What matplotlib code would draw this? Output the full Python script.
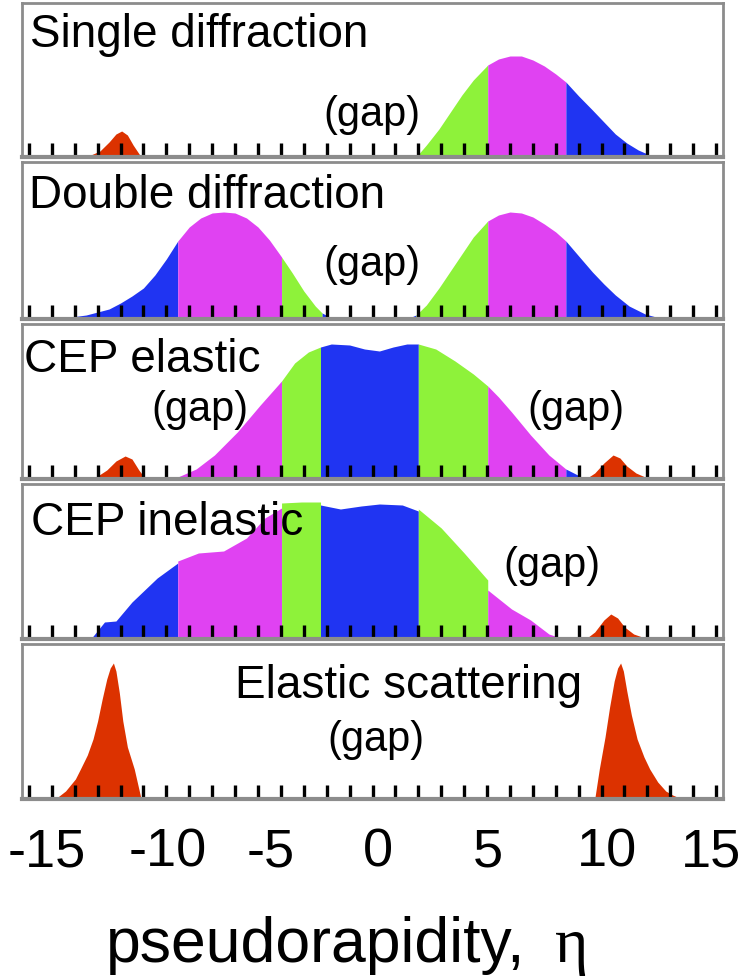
import matplotlib
matplotlib.use("Agg")
import matplotlib.pyplot as plt
from matplotlib.ticker import MultipleLocator

plt.rcParams['font.family'] = ['Liberation Sans', 'DejaVu Sans']

GREEN = '#8ef23a'
MAGENTA = '#e042f2'
BLUE = '#2034f2'
RED = '#dc3200'
FRAME = '#8c8c8c'

# ---- panel 1: single diffraction ----
sd_red_eta = [-12.7, -12.3, -11.9, -11.5, -11.2, -10.95, -10.7, -10.45, -10.1]
sd_red_h = [0, 2, 6, 15, 23, 26, 22, 12, 0]
sd_eta = [1.9, 2.35, 2.9, 3.4, 3.9, 4.4, 5.03, 5.5, 6.0, 6.5, 7.0, 7.5, 8.0, 8.44,
          9.0, 9.6, 10.1, 10.6, 11.1, 11.6, 12.3]
sd_h = [0, 12, 28, 45, 62, 77, 92, 98, 101, 101, 97, 91, 83, 75,
        61, 47, 35, 23, 14, 7, 0]
sd_edges = [1.9, 5.03, 8.44, 12.3]
sd_colors = [GREEN, MAGENTA, BLUE]

# ---- panel 2: double diffraction ----
dd_left_eta = [-13.8, -12.5, -11.5, -11.0, -10.5, -10.0, -9.5, -9.0, -8.5, -8.0, -7.5,
               -7.0, -6.5, -6.0, -5.5, -5.0, -4.5, -3.97, -3.5, -3.0, -2.5, -2.2, -1.7]
dd_left_h = [0, 4, 10, 16, 23, 31, 44, 60, 78, 92, 101,
             106, 107, 106, 101, 92, 79, 62, 46, 28, 13, 6, 0]
dd_left_edges = [-13.8, -8.5, -3.97, -2.2, -1.7]
dd_left_colors = [BLUE, MAGENTA, GREEN, BLUE]
dd_right_eta = [1.5, 1.9, 2.35, 2.9, 3.4, 3.9, 4.4, 5.03, 5.5, 6.0, 6.5, 7.0, 7.5, 8.0,
                8.44, 9.0, 9.6, 10.1, 10.6, 11.2, 11.9, 12.7]
dd_right_h = [0, 4, 14, 31, 48, 65, 82, 98, 104, 107, 106, 102, 95, 87,
              78, 63, 47, 35, 24, 13, 5, 0]
dd_right_edges = [1.5, 1.9, 5.03, 8.44, 12.7]
dd_right_colors = [BLUE, GREEN, MAGENTA, BLUE]

# ---- panel 3: CEP elastic ----
cepe_red1_eta = [-12.4, -12.0, -11.6, -11.2, -10.8, -10.5, -10.2, -9.9]
cepe_red1_h = [0, 3, 9, 18, 23, 20, 9, 0]
cepe_red2_eta = [9.3, 9.7, 10.1, 10.5, 10.8, 11.1, 11.5, 11.9, 12.3]
cepe_red2_h = [0, 6, 16, 24, 21, 13, 6, 2, 0]
cepe_eta = [-9.0, -8.5, -7.7, -6.9, -5.9, -4.9, -3.97, -3.4, -2.8, -2.27, -1.8, -1.0,
            -0.35, 0.3, 0.9, 1.5, 2.0, 2.76, 3.6, 4.4, 5.03, 5.5, 6.07, 6.9, 7.7, 8.44, 9.3]
cepe_h = [0, 2, 10, 24, 47, 74, 98, 116, 127, 132, 135, 134,
          130, 128, 132, 135, 135, 130, 118, 105, 93, 82, 67, 44, 24, 10, 0]
cepe_edges = [-9.0, -8.5, -3.97, -2.27, 2.0, 5.03, 8.44, 9.3]
cepe_colors = [BLUE, MAGENTA, GREEN, BLUE, GREEN, MAGENTA, BLUE]

# ---- panel 4: CEP inelastic ----
cepi_red_eta = [9.3, 9.7, 10.1, 10.4, 10.7, 11.0, 11.4, 11.9, 12.4]
cepi_red_h = [0, 7, 19, 25, 21, 12, 5, 1, 0]
cepi_eta = [-12.3, -11.7, -11.2, -10.5, -9.4, -8.5, -8.5, -7.6, -6.5, -5.5, -4.7,
            -3.97, -3.97, -3.1, -2.27, -2.27, -1.4, -0.5, 0.3, 1.3, 2.0, 2.0,
            3.0, 4.0, 5.03, 5.03, 6.07, 6.9, 7.7, 8.35]
cepi_h = [0, 17, 18, 37, 61, 76, 78, 86, 88, 101, 121,
          131, 136, 137, 137, 134, 130, 133, 135, 134, 128, 130,
          111, 86, 59, 49, 30, 19, 5, 0]
cepi_edges = [-12.3, -8.5, -3.97, -2.27, 2.0, 5.03, 8.35]
cepi_colors = [BLUE, MAGENTA, GREEN, BLUE, GREEN, MAGENTA]

# ---- panel 5: elastic scattering ----
el_left_eta = [-13.85, -13.4, -12.97, -12.75, -12.45, -12.2, -12.0, -11.8, -11.6,
               -11.45, -11.31, -11.2, -11.05, -10.9, -10.7, -10.4, -10.1]
el_left_h = [0, 8, 20, 30, 44, 60, 78, 100, 120, 131, 136, 128, 106, 78, 52, 30, 0]
el_right_eta = [9.7, 9.9, 10.15, 10.35, 10.55, 10.7, 10.83, 10.95, 11.1, 11.3, 11.55,
                11.85, 12.1, 12.45, 12.8, 13.1, 13.5]
el_right_h = [0, 30, 62, 92, 118, 131, 136, 128, 108, 84, 60, 42, 30, 17, 8, 4, 0]

# axis labels
tick_pos = [-14.24, -8.95, -4.45, 0.22, 5.02, 10.22, 14.76]
tick_labels = ['-15', '-10', '-5', '0', '5', '10', '15']


def fill_bands(ax, eta, h, edges, colors):
    for lo, hi, c in zip(edges[:-1], edges[1:], colors):
        xs = [e for e in eta if lo <= e <= hi]
        ys = [v for e, v in zip(eta, h) if lo <= e <= hi]
        ax.fill_between(xs, 0, ys, color=c, lw=0)


fig = plt.figure(figsize=(7.42, 9.79), dpi=100)
W, H = 742, 979
panels_px = [(4, 158), (163, 320), (325, 480), (485, 640), (645, 800)]
axes = []
for top, bot in panels_px:
    ax = fig.add_axes([22 / W, 1 - bot / H, (723 - 22) / W, (bot - top) / H])
    ax.set_xlim(-15.3, 15.3)
    ax.set_ylim(0, bot - top)
    ax.set_yticks([])
    ax.xaxis.set_minor_locator(MultipleLocator(1))
    ax.xaxis.remove_overlapping_locs = False
    ax.tick_params(axis='x', which='minor', direction='in', length=10, width=2.4,
                   color='black', bottom=True, top=False)
    ax.tick_params(axis='x', which='major', length=0)
    for s in ax.spines.values():
        s.set_color(FRAME)
        s.set_linewidth(2)
    ax.spines['bottom'].set_linewidth(3)
    ax.set_xticks([])
    axes.append(ax)

ax1, ax2, ax3, ax4, ax5 = axes

TITLE = 33
GAP = 30

ax1.fill_between(sd_red_eta, 0, sd_red_h, color=RED, lw=0)
fill_bands(ax1, sd_eta, sd_h, sd_edges, sd_colors)
ax1.text(-14.95, 111, 'Single diffraction', fontsize=TITLE, va='baseline')
ax1.text(-0.04, 43, '(gap)', fontsize=GAP, ha='center', va='center')

fill_bands(ax2, dd_left_eta, dd_left_h, dd_left_edges, dd_left_colors)
fill_bands(ax2, dd_right_eta, dd_right_h, dd_right_edges, dd_right_colors)
ax2.text(-15.0, 112, 'Double diffraction', fontsize=TITLE, va='baseline')
ax2.text(-0.04, 55, '(gap)', fontsize=GAP, ha='center', va='center')

ax3.fill_between(cepe_red1_eta, 0, cepe_red1_h, color=RED, lw=0)
ax3.fill_between(cepe_red2_eta, 0, cepe_red2_h, color=RED, lw=0)
fill_bands(ax3, cepe_eta, cepe_h, cepe_edges, cepe_colors)
ax3.text(-15.2, 108, 'CEP elastic', fontsize=TITLE, va='baseline')
ax3.text(-7.55, 70, '(gap)', fontsize=GAP, ha='center', va='center')
ax3.text(8.86, 70, '(gap)', fontsize=GAP, ha='center', va='center')

ax4.fill_between(cepi_red_eta, 0, cepi_red_h, color=RED, lw=0)
fill_bands(ax4, cepi_eta, cepi_h, cepi_edges, cepi_colors)
ax4.text(-14.9, 105, 'CEP inelastic', fontsize=TITLE, va='baseline')
ax4.text(7.82, 74, '(gap)', fontsize=GAP, ha='center', va='center')

ax5.fill_between(el_left_eta, 0, el_left_h, color=RED, lw=0)
ax5.fill_between(el_right_eta, 0, el_right_h, color=RED, lw=0)
ax5.text(1.57, 102, 'Elastic scattering', fontsize=TITLE, ha='center', va='baseline')
ax5.text(0.13, 60, '(gap)', fontsize=GAP, ha='center', va='center')

ax5.set_xticks(tick_pos)
ax5.set_xticklabels(tick_labels, fontsize=39)
ax5.tick_params(axis='x', which='major', length=0, pad=20)

fig.text(106 / W, 1 - 962 / H, 'pseudorapidity,', fontsize=45, ha='left', va='baseline')
fig.text(555 / W, 1 - 962 / H, 'η', fontsize=46, ha='left', va='baseline',
         family=['Liberation Serif', 'DejaVu Serif'])

fig.savefig('out.png', dpi=100)
